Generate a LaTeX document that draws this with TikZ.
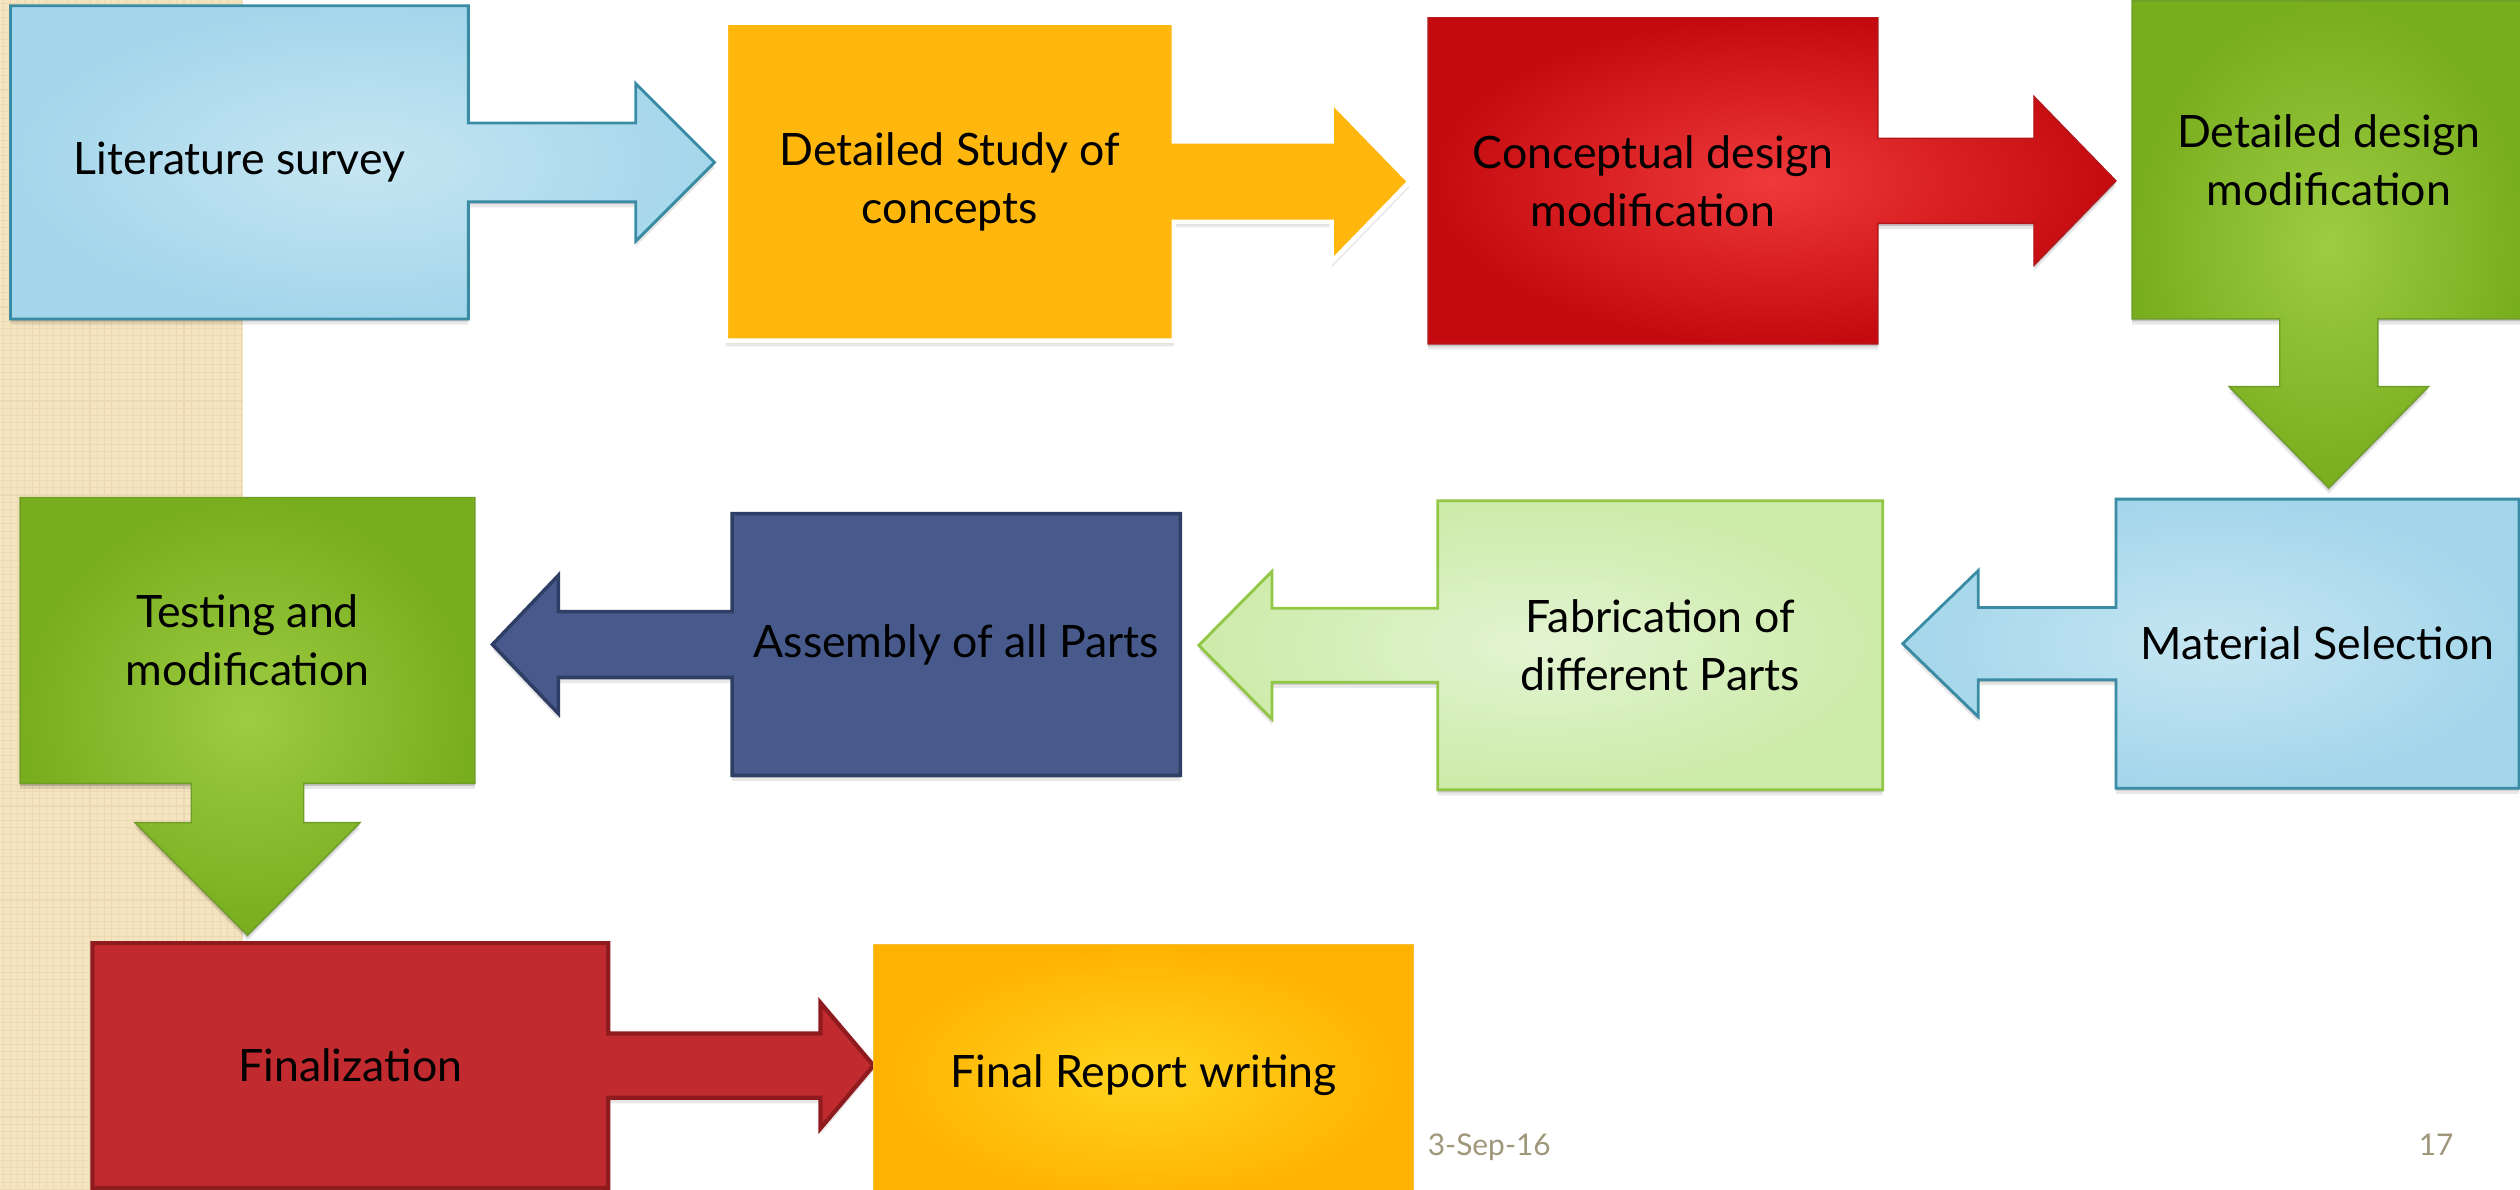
\documentclass[tikz,border=0pt]{standalone}
\usepackage{fontspec}
\setmainfont{Lato}
\usetikzlibrary{calc,shadows}

\pgfdeclarelayer{strip}
\pgfdeclarelayer{shapes}
\pgfsetlayers{strip,shapes,main}

% palette
\definecolor{lbC}{HTML}{C6E6F2}
\definecolor{lbE}{HTML}{A4D6EB}
\definecolor{lbL}{HTML}{3A8CA5}
\definecolor{orF}{HTML}{FFB60D}
\definecolor{rdC}{HTML}{EF393B}
\definecolor{rdE}{HTML}{C40A0E}
\definecolor{rdL}{HTML}{B3171B}
\definecolor{gnC}{HTML}{9DCC42}
\definecolor{gnE}{HTML}{78AD1D}
\definecolor{gnL}{HTML}{6E9E27}
\definecolor{pgC}{HTML}{E3F4D2}
\definecolor{pgE}{HTML}{CDEBA9}
\definecolor{pgL}{HTML}{92C645}
\definecolor{nvF}{HTML}{475A8B}
\definecolor{nvL}{HTML}{2F3E65}
\definecolor{fnF}{HTML}{C12B2F}
\definecolor{fnL}{HTML}{8F1B1E}
\definecolor{ywC}{HTML}{FFD41F}
\definecolor{ywE}{HTML}{FFB200}
\definecolor{ywL}{HTML}{F4C03A}
\definecolor{stripbg}{HTML}{F4E4C0}
\definecolor{stripln}{HTML}{EAD9B3}
\definecolor{footc}{HTML}{A0967A}

\newcommand\pxunit{0.1607mm}

% box with an arrow pointing right to the next box
% #1 style, #2 source, #3 target, #4 gap, #5 head length, #6 shaft half width, #7 head half width
\newcommand\rcallout[7]{%
  \coordinate (#2-tip) at ($(#2.east -| #3.west)+(-#4,0)$);
  \path[#1] (#2.north west) -- (#2.north east) -- ($(#2.east)+(0,-#6)$)
    -- ($(#2-tip)+(-#5,-#6)$) -- ($(#2-tip)+(-#5,-#7)$) -- (#2-tip)
    -- ($(#2-tip)+(-#5,#7)$) -- ($(#2-tip)+(-#5,#6)$) -- ($(#2.east)+(0,#6)$)
    -- (#2.south east) -- (#2.south west) -- cycle;}
% box with an arrow pointing left
\newcommand\lcallout[7]{%
  \coordinate (#2-tip) at ($(#2.west -| #3.east)+(#4,0)$);
  \path[#1] (#2.north east) -- (#2.north west) -- ($(#2.west)+(0,-#6)$)
    -- ($(#2-tip)+(#5,-#6)$) -- ($(#2-tip)+(#5,-#7)$) -- (#2-tip)
    -- ($(#2-tip)+(#5,#7)$) -- ($(#2-tip)+(#5,#6)$) -- ($(#2.west)+(0,#6)$)
    -- (#2.south west) -- (#2.south east) -- cycle;}
% box with an arrow pointing down
\newcommand\dcallout[7]{%
  \coordinate (#2-tip) at ($(#2.south |- #3.north)+(0,-#4)$);
  \path[#1] (#2.north west) -- (#2.north east) -- (#2.south east)
    -- ($(#2.south)+(#6,0)$) -- ($(#2-tip)+(#6,-#5)$) -- ($(#2-tip)+(#7,-#5)$)
    -- (#2-tip) -- ($(#2-tip)+(-#7,-#5)$) -- ($(#2-tip)+(-#6,-#5)$)
    -- ($(#2.south)+(-#6,0)$) -- (#2.south west) -- cycle;}

\begin{document}
\begin{tikzpicture}[x=0.1607mm,y=-0.1607mm,
  stepbox/.style 2 args={draw=none, inner sep=0pt, align=center,
    minimum width=#1*\pxunit, minimum height=#2*\pxunit,
    font=\fontsize{12.7}{16.5}\selectfont},
  soft/.style={
    drop shadow={shadow xshift=0pt,shadow yshift=-0.7pt,opacity=.16,fill=black},
    drop shadow={shadow xshift=0pt,shadow yshift=-1.6pt,opacity=.09,fill=black}},
  bluesh/.style={soft, inner color=lbC, outer color=lbE, draw=lbL, line width=0.8pt},
  orangesh/.style={soft, fill=orF, draw=white, line width=1.3pt},
  redsh/.style={soft, inner color=rdC, outer color=rdE, draw=rdL, line width=0.4pt},
  greensh/.style={soft, inner color=gnC, outer color=gnE, draw=gnL, line width=0.4pt},
  palesh/.style={soft, inner color=pgC, outer color=pgE, draw=pgL, line width=0.8pt},
  navysh/.style={soft, fill=nvF, draw=nvL, line width=1pt},
  finsh/.style={soft, fill=fnF, draw=fnL, line width=1.2pt},
  yellowsh/.style={soft, inner color=ywC, outer color=ywE, draw=ywL, line width=0.4pt},
  foot/.style={font=\fontsize{8.5}{10}\selectfont, text=footc, inner sep=0pt}
]
\useasboundingbox (0,0) rectangle (1568,740);

% page background and textured side strip
\begin{pgfonlayer}{strip}
  \fill[white] (0,0) rectangle (1568,740);
  \fill[stripbg] (0,0) rectangle (151,740);
  \foreach \k in {0,...,164}
    \draw[stripln, line width=0.3pt] (0,\k*4.5+2) -- (151,\k*4.5+2);
  \foreach \k in {0,...,33}
    \draw[stripln, line width=0.3pt] (\k*4.5+2,0) -- (\k*4.5+2,740);
\end{pgfonlayer}

% process steps
\node[stepbox={284}{194}] (lit) at (149,101) {Literature survey};
\node[stepbox={278}{197}] (dsc) at (591,113) {Detailed Study of\\concepts};
\node[stepbox={279}{202}] (cdm) at (1028.5,112.5) {Conceptual design\\modification};
\node[stepbox={244}{197}] (ddm) at (1449,99.5) {Detailed design\\modification};
\node[stepbox={250}{179}] (ms) at (1442,400.5) {Material Selection};
\node[stepbox={276}{179}] (fab) at (1033,401.5) {Fabrication of\\different Parts};
\node[stepbox={278}{162}] (asm) at (595,401) {Assembly of all Parts};
\node[stepbox={282}{177}] (tst) at (154,398.5) {Testing and\\modification};
\node[stepbox={320}{151.5}] (fin) at (218,663) {Finalization};
\node[stepbox={335}{162}] (frw) at (711.5,669) {Final Report writing};

% boxes with their arrows
\begin{pgfonlayer}{shapes}
  \rcallout{bluesh}{lit}{dsc}{7}{49}{24.5}{49}
  \rcallout{orangesh}{dsc}{cdm}{11.5}{48.5}{25}{50}
  \rcallout{redsh}{cdm}{ddm}{10}{51}{26.5}{52.5}
  \dcallout{greensh}{ddm}{ms}{7}{63}{30.5}{62}
  \lcallout{bluesh}{ms}{fab}{12.5}{47}{22.5}{45.5}
  \lcallout{palesh}{fab}{asm}{11.5}{45.5}{23}{46}
  \lcallout{navysh}{asm}{tst}{11}{41}{20.5}{43}
  \dcallout{greensh}{tst}{fin}{5}{70}{35}{70}
  \rcallout{finsh}{fin}{frw}{0}{33}{20}{39}
  \path[yellowsh] (frw.north west) rectangle (frw.south east);
\end{pgfonlayer}

% footer
\node[foot, anchor=base west] (date) at (888,719) {3-Sep-16};
\node[foot, anchor=base east] (page) at (1527,719) {17};
\end{tikzpicture}
\end{document}
